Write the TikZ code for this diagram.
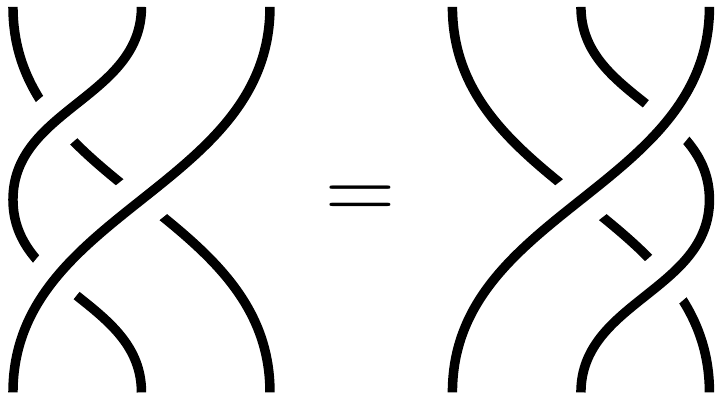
\documentclass[tikz,border=0pt]{standalone}
\usepackage{tikz}

\begin{document}
\begin{tikzpicture}[
  strand/.style={line width=2.1pt},
  over/.style={strand, preaction={draw=white, line width=12pt}},
  eqsign/.style={anchor=base, inner sep=0pt, font=\fontsize{21.5}{26}\selectfont},
]
\useasboundingbox (-0.101,-0.01) rectangle (5.479,3.054);
% left side: the three strands
\begin{scope}
\coordinate (lt1) at (0,3);
\coordinate (lt2) at (1,3);
\coordinate (lt3) at (2,3);
\coordinate (lb1) at (0,0);
\coordinate (lb2) at (1,0);
\coordinate (lb3) at (2,0);
\coordinate (lm) at (0,1.5);
\draw[strand] (lt1) to[out=-90,in=90] (lb3);
\draw[over] (lt2) to[out=-90,in=90] (lm) to[out=-90,in=90] (lb2);
\draw[over] (lt3) to[out=-90,in=90] (lb1);
\end{scope}
% the sign
\node[eqsign] (eq) at (2.705,1.335) {=};
% right side: the same, turned round
\begin{scope}[xshift=3.42cm]
\coordinate (rt1) at (0,3);
\coordinate (rt2) at (1,3);
\coordinate (rt3) at (2,3);
\coordinate (rb1) at (0,0);
\coordinate (rb2) at (1,0);
\coordinate (rb3) at (2,0);
\coordinate (rm) at (2,1.5);
\draw[strand] (rt1) to[out=-90,in=90] (rb3);
\draw[over] (rt2) to[out=-90,in=90] (rm) to[out=-90,in=90] (rb2);
\draw[over] (rt3) to[out=-90,in=90] (rb1);
\end{scope}
\end{tikzpicture}
\end{document}
